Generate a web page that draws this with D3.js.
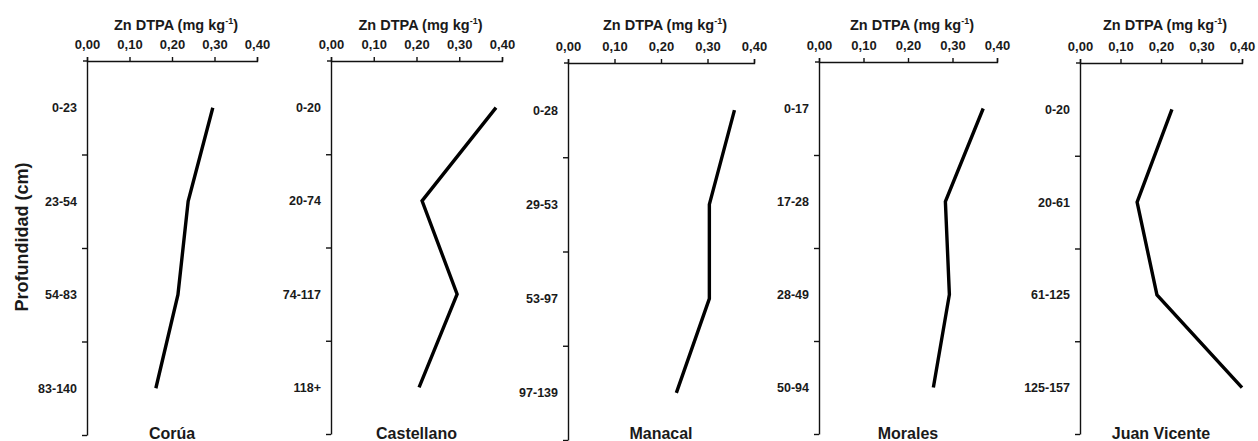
<!DOCTYPE html>
<html>
<head>
<meta charset="utf-8">
<script src="https://cdn.jsdelivr.net/npm/d3@7/dist/d3.min.js"></script>
<style>
  body { margin: 0; background: #fff; }
  svg text { font-family: "Liberation Sans", Arial, sans-serif; font-weight: bold; fill: #1a1a1a; }
</style>
</head>
<body>
<svg id="canvas"></svg>
<script>
"use strict";

// data
const sites = ["Corúa", "Castellano", "Manacal", "Morales", "Juan Vicente"];
const depthCorua = ["0-23", "23-54", "54-83", "83-140"];
const depthCastellano = ["0-20", "20-74", "74-117", "118+"];
const depthManacal = ["0-28", "29-53", "53-97", "97-139"];
const depthMorales = ["0-17", "17-28", "28-49", "50-94"];
const depthJuan = ["0-20", "20-61", "61-125", "125-157"];
const znCorua = [0.296, 0.238, 0.214, 0.162];
const znCastellano = [0.386, 0.213, 0.295, 0.206];
const znManacal = [0.358, 0.304, 0.304, 0.233];
const znMorales = [0.369, 0.284, 0.293, 0.257];
const znJuan = [0.227, 0.141, 0.19, 0.40];
const xTicks = [0, 0.1, 0.2, 0.3, 0.4];

const depths = [depthCorua, depthCastellano, depthManacal, depthMorales, depthJuan];
const values = [znCorua, znCastellano, znManacal, znMorales, znJuan];

let width = 1258;
let height = 441;

// panel placement: left, right of x range, top of axis, bottom of axis
let panels = [
    {x0: 87, x1: 257, y0: 61, y1: 435},
    {x0: 331, x1: 502, y0: 61, y1: 434},
    {x0: 568, x1: 754, y0: 63, y1: 440},
    {x0: 819, x1: 997, y0: 62, y1: 434},
    {x0: 1080, x1: 1242, y0: 63, y1: 434}
];

let canvas = d3.select('#canvas')
    .attr('width', width)
    .attr('height', height);

const fmt = (d) => d3.format('.2f')(d).replace('.', ',');

sites.forEach((site, i) => {
    let p = panels[i];
    let g = canvas.append('g');

    let xScale = d3.scaleLinear()
        .domain([0, 0.4])
        .range([p.x0, p.x1]);

    let yScale = d3.scalePoint()
        .domain(depths[i])
        .range([p.y0, p.y1])
        .padding(0.5);

    let yEdges = d3.scaleLinear()
        .domain([0, depths[i].length])
        .range([p.y0, p.y1]);

    // top x axis
    let xAxis = d3.axisTop(xScale)
        .tickValues(xTicks)
        .tickFormat(fmt)
        .tickSize(4)
        .tickSizeOuter(4)
        .tickPadding(8);
    let xg = g.append('g')
        .attr('transform', 'translate(0,' + p.y0 + ')')
        .call(xAxis);
    xg.selectAll('text').style('font-size', '13px');
    // axis line runs a little past the y axis, as in the original
    xg.append('line')
        .attr('x1', p.x0 - 4).attr('x2', p.x0)
        .attr('stroke', '#111').attr('stroke-width', 1.4);

    // y axis: boundary ticks
    let yTickAxis = d3.axisLeft(yEdges)
        .tickValues([1, 2, 3, 4])
        .tickFormat('')
        .tickSize(5)
        .tickSizeOuter(0);
    g.append('g')
        .attr('transform', 'translate(' + p.x0 + ',0)')
        .call(yTickAxis);

    // y axis: depth labels at band centres
    let yLabelAxis = d3.axisLeft(yScale)
        .tickSize(0)
        .tickPadding(10);
    let yg = g.append('g')
        .attr('transform', 'translate(' + p.x0 + ',0)')
        .call(yLabelAxis);
    yg.select('.domain').remove();
    yg.selectAll('text').style('font-size', '12.5px');

    g.selectAll('.domain, .tick line')
        .attr('stroke', '#111')
        .attr('stroke-width', 1.4);

    // axis title
    g.append('text')
        .attr('x', (p.x0 + p.x1) / 2 + 4)
        .attr('y', 30)
        .attr('text-anchor', 'middle')
        .style('font-size', '14.5px')
        .text('Zn DTPA (mg kg')
        .append('tspan')
        .attr('dy', -6)
        .style('font-size', '9px')
        .text('-1')
        .clone(true)
        .attr('dy', 6)
        .style('font-size', '14.5px')
        .text(')');

    // profile line
    let line = d3.line()
        .x((d) => xScale(d))
        .y((d, k) => yScale(depths[i][k]));
    g.append('path')
        .datum(values[i])
        .attr('d', line)
        .attr('fill', 'none')
        .attr('stroke', '#000')
        .attr('stroke-width', 3.4);

    // site name
    g.append('text')
        .attr('x', (p.x0 + p.x1) / 2)
        .attr('y', 439)
        .attr('text-anchor', 'middle')
        .style('font-size', '16px')
        .text(site);
});

canvas.append('text')
    .attr('transform', 'translate(28,' + 237 + ') rotate(-90)')
    .attr('text-anchor', 'middle')
    .style('font-size', '18px')
    .text('Profundidad (cm)');
</script>
</body>
</html>
